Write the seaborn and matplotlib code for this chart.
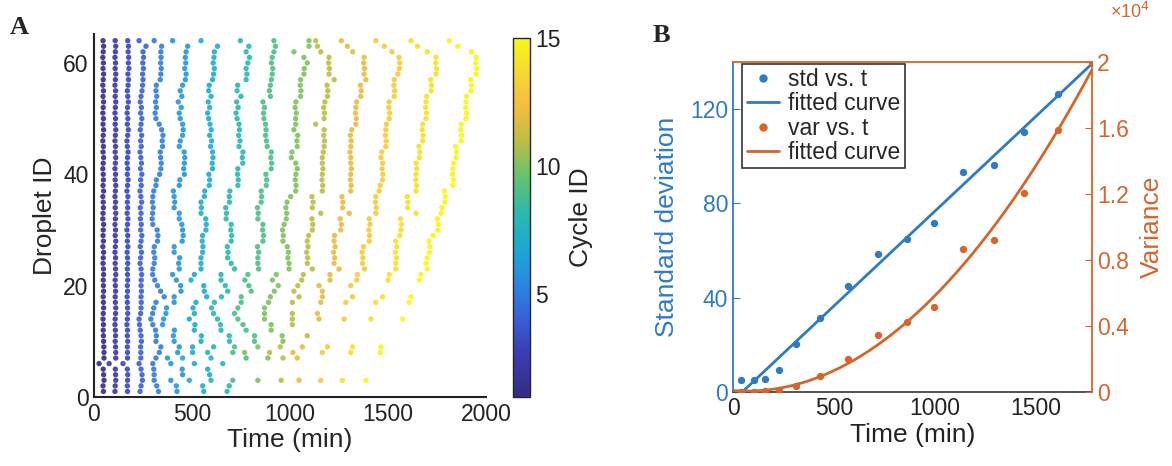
import numpy as np
import pandas as pd
import matplotlib
matplotlib.use("Agg")
import matplotlib.pyplot as plt
import seaborn as sns
from matplotlib.colors import LinearSegmentedColormap, Normalize
from matplotlib.cm import ScalarMappable
from matplotlib.lines import Line2D

N = None
# ---------------- Panel A data: time (min) of each cycle, per droplet ID 1..64 ----------------
droplet_ids = list(range(1, 65))
cycle_01 = [48,46,51,49,47,26,51,51, 50,49,48,47,48,46,47,49, 48,47,49,48,47,49,48,46,
            47,49,45,48,46,47,49,45, 46,48,47,45,49,46,48,47, 45,47,49,46,48,45,47,49,
            46,48,45,47,49,46,48,45, 47,49,46,48,45,47,49,46]
cycle_02 = [107,108,111,110,109,77,111,111, 110,108,110,109,107,108,110,111, 109,108,110,109,108,111,110,108,
            110,107,109,111,108,110,107,109, 111,108,110,107,109,111,108,110, 107,109,111,108,110,107,109,111,
            108,110,107,109,111,108,110,107, 109,111,108,110,107,109,111,108]
cycle_03 = [171,170,171,172,170,148,171,171, 170,172,170,171,168,170,172,171, 170,169,171,170,172,171,170,172,
            171,169,173,170,172,168,171,173, 169,172,170,173,168,171,174,170, 172,169,171,174,170,168,172,175,
            170,173,169,171,175,172,170,174, 176,173,178,175,177,174,176,172]
cycle_04 = [235,240,247,245,240,230,239,239, 238,242,240,236,232,230,238,240, 241,240,242,240,241,243,240,235,
            238,242,236,240,244,238,241,237, 240,236,243,239,235,241,238,244, 237,242,239,235,241,238,243,236,
            240,244,238,242,236,240,245,248, 250,248,252,249,253,250,265,230]
cycle_05 = [329,320,307,307,305,300,316,333,341,316,318,314,300,290,299,305,316,358,340,324,310,299,300,
            307,310,305,308,324,326,322,300,297,299,302,298,300,305,316,318,335,341,343,340,338,350,348,352,
            345,333,316,312,318,314,320,316,318,338,341,343,340,342,341,345,307]
cycle_06 = [423,420,392,452,450,392,375,427,435,409,405,410,350,355,367,370,409,409,444,442,420,401,435,
            432,437,409,409,450,455,452,448,435,435,409,412,409,405,435,438,461,458,461,463,460,435,440,452,
            455,452,440,435,445,430,448,440,452,466,470,463,468,466,470,478,401]
cycle_07 = [560,555,486,590,580,512,452,503,503,546,548,512,515,486,512,505,520,575,563,560,495,512,546,
            546,546,554,556,552,554,571,573,570,546,548,546,563,565,588,590,586,605,603,607,605,595,600,590,
            598,592,585,580,590,583,597,585,588,605,610,614,608,612,614,630,546]
cycle_08 = [679,690,597,N,N,657,597,580,610,691,690,648,645,630,610,600,614,650,682,670,648,648,717,
            700,682,684,680,700,702,698,700,674,676,672,691,690,693,734,736,732,734,759,757,760,740,745,738,
            742,740,730,725,735,728,750,730,733,776,780,776,785,793,776,790,747]
cycle_09 = [N,N,708,N,N,N,776,708,717,819,819,776,760,734,717,734,751,751,802,790,770,785,840,
            836,836,840,834,862,865,860,862,836,838,834,853,855,853,879,881,877,904,906,902,905,884,880,875,
            878,875,867,865,870,862,900,895,900,905,909,912,905,909,918,926,918]
cycle_10 = [N,N,836,N,N,N,887,768,836,964,960,904,904,870,870,870,890,900,920,940,910,930,995,
            995,989,992,986,964,966,962,970,981,983,979,985,1003,1029,1031,1027,1030,1037,1029,1007,1010,1037,
            1035,1039,1020,1029,1029,1032,1026,1030,1054,1056,1052,1054,1071,1073,1088,1071,1020,1097,1097]
cycle_11 = [N,N,955,N,N,N,964,896,950,N,1088,N,1012,1012,1012,N,1012,1046,1020,1040,1060,1068,1114,
            1088,1090,1085,1092,1088,1095,1114,1116,1112,1157,1114,1118,1112,1165,1167,1163,1165,1168,1165,1165,
            1170,1174,1176,1172,1174,1131,1174,1176,1172,1178,1191,1193,1189,1225,1199,1201,1197,1199,1157,1140,1131]
cycle_12 = [N,N,1046,N,N,N,1037,1015,1063,N,N,N,N,1148,1140,N,1157,1165,1165,1148,1204,1204,1250,
            1225,1228,1222,1230,1225,1227,1259,1262,1256,1302,1268,1270,1265,1310,1312,1308,1310,1313,1310,1310,
            1306,1310,1312,1308,1315,1336,1338,1334,1336,1340,1361,1363,1359,1387,1378,1380,1376,1378,1320,1293,1262]
cycle_13 = [N,N,1157,N,N,N,N,1165,1191,N,N,N,N,1276,N,N,1285,1319,N,1310,1340,1344,1380,
            1370,1372,1368,1375,1404,1406,1402,1408,1404,1438,1440,1436,1438,1455,1460,1472,1474,1470,1472,1464,
            1468,1489,1491,1487,1489,1492,1506,1508,1504,1506,1532,1534,1530,1532,1550,1558,1560,1556,1520,1481,1438]
cycle_14 = [N,N,1267,N,N,N,N,1310,1319,N,N,N,N,1413,N,N,1437,1472,N,N,1500,1506,1540,
            1540,1543,1538,1545,1540,1560,1566,1568,1564,1643,1600,1602,1598,1643,1645,1641,1643,1646,1643,1660,
            1662,1658,1677,1679,1675,1677,1694,1696,1692,1694,1697,1720,1722,1718,1745,1747,1743,1745,1700,1651,1617]
cycle_15 = [N,N,1387,N,N,N,N,1460,1464,N,N,N,N,1574,N,N,1608,1617,N,N,1660,1668,1700,
            1694,1700,1711,1713,1709,1730,1754,1756,1752,1770,1775,1790,1792,1788,1831,1833,1829,1831,1834,1847,
            1849,1845,1873,1875,1871,1873,1898,1900,1896,1898,1901,1924,1926,1922,1950,1952,1948,1950,1925,1856,1813]
cycle_times = [cycle_01, cycle_02, cycle_03, cycle_04, cycle_05, cycle_06, cycle_07, cycle_08,
               cycle_09, cycle_10, cycle_11, cycle_12, cycle_13, cycle_14, cycle_15]
cycle_ids = list(range(1, 16))

# ---------------- Panel B data ----------------
t_mean = [41, 103, 160, 227, 314, 433, 571, 718, 863, 996, 1141, 1293, 1442, 1613, 1781]
std_vals = [4.9, 4.9, 5.6, 9.2, 20.5, 31.6, 45.0, 58.5, 64.9, 71.7, 93.3, 96.2, 110.4, 126.5, 140.4]
var_vals = [24, 24, 31, 100, 380, 990, 2000, 3470, 4220, 5150, 8660, 9220, 12050, 15880, 20000]
legend_labels = ["std vs. t", "fitted curve", "var vs. t", "fitted curve"]

# ---------------- style ----------------
sns.set_style("white")
plt.rcParams["font.family"] = ["Liberation Sans", "DejaVu Sans"]
BLUE = "#2E7BC4"
ORANGE = "#D5652C"

parula = LinearSegmentedColormap.from_list("parula", [
    (0.00, (0.21, 0.17, 0.53)), (0.12, (0.23, 0.24, 0.70)), (0.22, (0.22, 0.38, 0.84)),
    (0.32, (0.16, 0.54, 0.88)), (0.42, (0.10, 0.67, 0.82)), (0.52, (0.18, 0.73, 0.66)),
    (0.62, (0.42, 0.76, 0.42)), (0.72, (0.76, 0.74, 0.26)), (0.82, (0.97, 0.74, 0.25)),
    (0.91, (0.96, 0.86, 0.18)), (1.00, (0.97, 0.97, 0.09))])

W, H = 1172, 466
fig = plt.figure(figsize=(W / 100, H / 100), dpi=100)

def frac(x0, y0, x1, y1):
    return [x0 / W, 1 - y1 / H, (x1 - x0) / W, (y1 - y0) / H]

# ---------------- Panel A ----------------
rows = []
for c, times in zip(cycle_ids, cycle_times):
    assert len(times) == 64
    for d, t in zip(droplet_ids, times):
        if t is not None:
            rows.append((t, d, c))
dfA = pd.DataFrame(rows, columns=["time", "droplet", "cycle"])

axA = fig.add_axes(frac(94, 34, 486, 397))
sns.scatterplot(data=dfA, x="time", y="droplet", hue="cycle", palette=parula,
                hue_norm=(1, 15), s=15, linewidth=0, alpha=0.9, legend=False, ax=axA)
axA.set_xlim(0, 2000)
axA.set_ylim(0, 65.2)
axA.set_xticks([0, 500, 1000, 1500, 2000])
axA.set_yticks([0, 20, 40, 60])
axA.set_xlabel("Time (min)", fontsize=19, labelpad=2)
axA.set_ylabel("Droplet ID", fontsize=19, labelpad=4)
axA.tick_params(direction="in", length=5, width=1.2, labelsize=16.5, colors="#222222", pad=4)
for s in ["top", "right"]:
    axA.spines[s].set_visible(False)
for s in ["left", "bottom"]:
    axA.spines[s].set_color("#222222")
    axA.spines[s].set_linewidth(1.5)

cax = fig.add_axes(frac(513, 38, 530, 397))
cb = fig.colorbar(ScalarMappable(norm=Normalize(1, 15), cmap=parula), cax=cax)
cb.set_ticks([5, 10, 15])
cb.outline.set_linewidth(1.0)
cax.tick_params(direction="in", length=4, labelsize=16.5, colors="#222222")
cb.set_label("Cycle ID", fontsize=19, labelpad=6)

fig.text(10 / W, 1 - 34 / H, "A", fontsize=19, fontweight="bold", family="Liberation Serif")
fig.text(653 / W, 1 - 42 / H, "B", fontsize=19, fontweight="bold", family="Liberation Serif")

# ---------------- Panel B ----------------
axB = fig.add_axes(frac(733, 62, 1092, 392))
axR = axB.twinx()
tt = np.linspace(0, 1781, 300)
p_std = np.polyfit(t_mean, std_vals, 1)
p_var = np.polyfit(t_mean, var_vals, 2)
sns.lineplot(x=tt, y=np.polyval(p_std, tt), ax=axB, color=BLUE, lw=2)
sns.scatterplot(x=t_mean, y=std_vals, ax=axB, color=BLUE, s=28, linewidth=0, zorder=3)
sns.lineplot(x=tt, y=np.polyval(p_var, tt), ax=axR, color=ORANGE, lw=2)
sns.scatterplot(x=t_mean, y=var_vals, ax=axR, color=ORANGE, s=28, linewidth=0, zorder=3)

axB.set_xlim(0, 1781)
axB.set_ylim(0, 140)
axR.set_ylim(0, 20000)
axB.set_xticks([0, 500, 1000, 1500])
axB.set_yticks([0, 40, 80, 120])
axR.set_yticks([0, 4000, 8000, 12000, 16000, 20000])
axR.set_yticklabels(["0", "0.4", "0.8", "1.2", "1.6", "2"])
axB.set_xlabel("Time (min)", fontsize=19, labelpad=2, color="#222222")
axB.set_ylabel("Standard deviation", fontsize=19, color=BLUE, labelpad=8)
axR.set_ylabel("Variance", fontsize=19, color=ORANGE, labelpad=8)
axB.tick_params(axis="x", direction="in", length=5, labelsize=16.5, colors="#222222")
axB.tick_params(axis="y", direction="in", length=5, labelsize=16.5, colors=BLUE)
axR.tick_params(axis="y", direction="in", length=5, labelsize=16.5, colors=ORANGE)
axB.spines["left"].set_color(BLUE)
axB.spines["bottom"].set_color("#444444")
axB.spines["top"].set_color(ORANGE)
axB.spines["right"].set_visible(False)
axR.spines["right"].set_color(ORANGE)
for s in ["left", "top", "bottom"]:
    axR.spines[s].set_visible(False)
for sp in list(axB.spines.values()) + list(axR.spines.values()):
    sp.set_linewidth(1.3)
fig.text(1110 / W, 1 - 22 / H, "×10$^{4}$", color=ORANGE, fontsize=13, ha="left", va="bottom")

handles = [Line2D([], [], marker="o", ls="none", color=BLUE, ms=5),
           Line2D([], [], color=BLUE, lw=2),
           Line2D([], [], marker="o", ls="none", color=ORANGE, ms=5),
           Line2D([], [], color=ORANGE, lw=2)]
leg = axR.legend(handles, legend_labels, loc="upper left", bbox_to_anchor=(0.025, 0.995),
                 fontsize=16.5, frameon=True, fancybox=False, framealpha=1, edgecolor="#333333",
                 handlelength=1.4, handletextpad=0.4, borderpad=0.2, labelspacing=0.05,
                 borderaxespad=0)
leg.get_frame().set_linewidth(1.2)

fig.savefig("out.png", dpi=100)
